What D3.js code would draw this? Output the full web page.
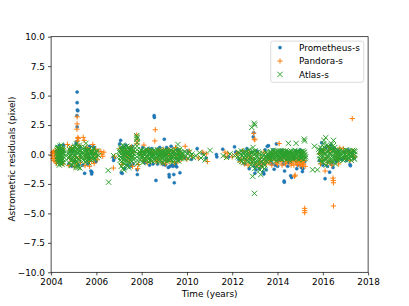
<!DOCTYPE html>
<html><head><meta charset="utf-8">
<script src="https://cdn.jsdelivr.net/npm/d3@7"></script>
<style>body{margin:0;background:#fff}svg{display:block}text{font-family:"DejaVu Sans",sans-serif}</style>
</head><body>
<svg id="c" width="409" height="306"></svg>
<script>
const seriesNames = ["Prometheus-s", "Pandora-s", "Atlas-s"];
const xTicks = [2004, 2006, 2008, 2010, 2012, 2014, 2016, 2018];
const yTicks = [-10, -7.5, -5, -2.5, 0, 2.5, 5, 7.5, 10];

const prometheus = [
[2004.27,0.3],[2004.31,-0.5],[2004.36,0.75],[2004.40,-0.2],[2004.44,0.5],[2004.48,-0.7],[2004.52,0.2],[2004.55,0.8],
[2004.78,-0.8],[2004.85,0.5],[2004.92,-1.0],[2004.98,0.3],[2005.05,-0.6],[2005.10,0.9],[2005.22,-0.9],[2005.28,0.6],
[2005.15,5.3],[2005.15,4.4],[2005.16,3.78],[2005.18,3.72],[2005.14,3.3],[2005.15,2.35],[2005.13,1.1],
[2005.40,-0.9],[2005.48,-1.6],[2005.55,0.5],[2005.62,-0.8],[2005.70,0.7],[2005.76,-1.4],[2005.79,-1.65],[2005.80,-1.5],[2005.86,0.65],[2005.92,0.55],[2005.98,-0.6],[2005.65,-0.3],
[2006.75,-0.2],[2006.76,-0.5],[2006.78,-0.35],
[2007.03,0.9],[2007.07,1.2],[2007.10,-1.55],[2007.14,-1.6],[2007.18,0.6],[2007.25,-1.2],[2007.30,0.8],[2007.38,-0.9],[2007.45,0.5],[2007.52,-1.0],[2007.58,0.7],[2007.62,-0.8],
[2007.81,-1.7],[2007.80,-1.3],
[2008.05,0.6],[2008.15,-0.7],[2008.25,0.4],[2008.35,-0.9],[2008.45,0.5],[2008.55,3.3],[2008.56,3.15],[2008.63,-2.2],[2008.70,-0.8],[2008.80,0.6],[2008.90,-0.7],[2009.00,1.3],[2009.05,-0.9],[2009.12,0.5],[2009.18,-1.1],[2009.21,-1.7],[2009.22,-1.9],[2009.30,0.7],[2009.38,-1.0],[2009.42,-1.7],[2009.44,-2.4],[2009.50,-0.8],[2009.58,0.4],[2009.69,-1.55],[2009.62,-0.5],
[2008.10,-0.6],[2008.30,0.5],[2008.50,-0.8],[2008.75,0.5],[2008.95,-0.85],[2009.10,0.6],[2009.25,-1.0],[2009.35,-0.9],[2009.55,-1.05],[2009.48,-0.95],
[2009.90,-0.3],[2010.05,0.3],[2010.20,-0.4],[2010.45,0.5],[2010.70,0.1],[2010.85,-0.3],[2011.30,0.0],[2011.32,-0.2],[2011.58,0.45],[2011.85,-0.2],[2012.10,0.65],[2012.15,0.2],
[2012.30,-0.4],[2012.45,0.3],[2012.55,-0.8],[2012.65,0.5],[2012.75,-1.2],[2012.85,0.2],[2012.93,1.5],[2012.95,1.85],[2012.97,-1.0],[2013.00,-1.6],[2013.05,-1.3],[2013.10,0.3],[2013.20,-1.2],[2013.30,-0.9],[2013.37,-1.5],[2013.40,-1.65],[2013.45,0.4],[2013.50,-1.3],[2013.55,0.7],
[2013.70,-0.6],[2013.80,0.4],[2013.90,-0.9],[2013.95,0.9],[2014.05,-0.5],[2014.15,0.3],[2014.25,-0.8],[2014.29,-2.25],[2014.30,-2.35],[2014.31,-1.4],[2014.40,0.2],[2014.50,-0.7],[2014.58,-1.8],[2014.62,-1.95],[2014.70,-0.4],[2014.80,0.3],[2014.90,-0.9],[2015.00,0.4],[2015.10,-1.45],[2015.12,-1.2],[2015.20,-0.6],
[2013.75,-0.8],[2014.00,-1.0],[2014.20,0.35],[2014.45,-1.0],[2014.85,-1.2],[2015.05,-1.1],[2013.60,0.75],[2013.85,-1.25],
[2015.85,-0.5],[2015.90,0.4],[2015.95,1.0],[2016.00,-0.9],[2016.10,-2.05],[2016.15,0.6],[2016.20,-1.0],[2016.30,-1.5],[2016.35,0.8],[2016.40,-0.8],[2016.45,-1.1],[2016.50,0.5],[2016.60,-0.6],[2016.70,0.3],
[2016.85,-0.4],[2016.95,0.2],[2017.05,-0.5],[2017.12,0.4],[2017.20,-0.85],[2017.22,-0.95],[2017.30,0.1],[2017.38,-0.3]
];

const pandora = [
[2004.04,-0.1],[2004.06,0.15],[2004.08,-0.35],[2004.10,0.25],[2004.12,-0.5],[2004.14,0.05],[2004.16,-0.2],[2004.18,0.35],[2004.20,-0.6],[2004.22,0.1],[2004.24,-0.75],[2004.26,-0.3],
[2004.33,0.45],[2004.40,-0.65],[2004.47,0.3],[2004.53,-0.8],[2004.30,-0.1],[2004.38,0.1],[2004.44,-0.4],[2004.50,0.5],
[2004.72,0.85],[2004.79,-0.95],[2004.86,0.35],[2004.93,-0.55],[2005.00,0.55],[2005.04,-1.05],[2005.24,0.75],[2005.30,-0.65],[2005.08,-0.2],
[2004.82,-0.3],[2004.90,0.6],[2005.12,-0.8],[2005.26,-0.3],
[2005.15,3.2],[2005.15,2.6],[2005.14,2.15],[2005.18,1.45],[2005.20,1.35],[2005.16,1.15],
[2005.42,1.45],[2005.46,1.2],[2005.50,-0.95],[2005.58,0.6],[2005.66,-0.55],[2005.74,0.3],[2005.84,0.85],[2005.90,-0.75],[2005.96,0.45],[2006.04,-0.45],[2005.54,-0.2],[2005.70,-1.0],[2006.08,0.3],
[2005.62,0.1],[2005.78,-0.6],[2005.88,0.2],[2005.98,-0.2],
[2006.20,0.25],[2006.24,0.05],[2006.28,-0.15],[2006.33,0.2],
[2006.75,-1.15],[2006.80,-0.15],
[2007.05,0.5],[2007.12,-0.85],[2007.22,0.05],[2007.30,0.35],[2007.38,-0.25],[2007.46,-0.55],[2007.54,0.65],[2007.60,-1.0],[2007.65,0.2],
[2007.78,1.65],[2007.80,1.25],[2007.79,0.95],[2007.82,-1.2],[2007.85,-0.85],
[2007.95,0.2],[2008.05,-0.5],[2008.10,0.8],[2008.20,-0.3],[2008.30,0.4],[2008.40,-0.6],[2008.50,0.2],[2008.58,1.15],[2008.60,2.1],[2008.70,-0.4],[2008.80,0.3],[2008.90,-0.7],[2009.00,0.1],[2009.10,-0.5],[2009.20,0.4],[2009.30,-0.3],[2009.40,0.2],[2009.50,0.6],[2009.60,-0.6],[2009.70,0.1],
[2008.00,0.0],[2008.15,0.3],[2008.25,-0.7],[2008.45,0.1],[2008.65,-0.6],[2008.75,0.35],[2008.85,-0.2],[2008.95,0.45],[2009.05,-0.8],[2009.15,0.0],[2009.25,-0.6],[2009.35,0.35],[2009.45,-0.7],[2009.55,-0.1],[2009.65,0.3],[2009.75,-0.4],
[2009.85,-0.2],[2009.92,0.7],[2010.00,-0.4],[2010.10,0.3],[2010.20,-0.1],
[2010.50,-0.3],[2010.70,0.2],[2010.85,0.05],[2010.90,-0.6],[2011.68,0.2],[2011.72,-0.2],[2011.80,0.1],[2012.00,-0.2],[2012.20,0.05],
[2012.25,0.1],[2012.35,-0.6],[2012.45,0.3],[2012.55,-0.8],[2012.65,-0.3],[2012.75,0.2],[2012.85,-0.7],[2012.95,1.8],[2012.97,1.3],[2013.00,1.25],[2012.92,-0.4],[2013.05,-0.9],[2013.12,0.1],[2013.20,-0.6],[2013.30,-1.0],[2013.40,0.2],[2013.50,-0.8],[2013.55,-0.3],
[2012.40,-0.4],[2012.60,-0.5],[2012.70,-0.9],[2012.80,-0.2],[2013.15,-0.8],[2013.25,-0.3],[2013.35,-0.7],[2013.45,-0.5],
[2013.65,-0.5],[2013.75,-0.9],[2013.85,0.1],[2013.95,-0.7],[2014.07,0.93],[2014.10,-0.4],[2014.20,-0.9],[2014.30,0.1],[2014.40,-0.6],[2014.50,-0.2],[2014.60,-0.9],[2014.75,-1.85],[2014.78,-1.75],[2014.70,-0.3],[2014.85,-0.7],[2014.95,-0.5],[2015.00,-0.9],[2015.05,-0.6],[2015.15,-0.8],[2015.20,-4.57],[2015.20,-4.77],[2015.20,-4.94],[2015.22,-1.0],
[2014.55,-0.6],[2014.62,-0.75],[2014.68,-0.5],[2014.72,-0.9],[2014.80,-0.6],[2014.88,-0.85],[2014.92,-0.4],[2014.98,-0.7],[2015.02,-0.55],[2015.08,-0.85],[2015.12,-0.6],[2015.18,-0.5],[2015.10,-1.0],[2013.62,-0.7],[2013.70,-0.3],[2013.90,-0.5],[2014.00,-0.8],[2014.15,-0.6],[2014.25,-0.3],[2014.35,-0.8],[2014.45,-0.5],
[2015.85,0.1],[2015.95,-0.5],[2016.05,0.4],[2016.10,-1.4],[2016.15,-0.3],[2016.25,0.6],[2016.35,-0.6],[2016.45,-2.0],[2016.46,-2.2],[2016.47,-2.4],[2016.47,-4.37],[2016.55,0.2],[2016.65,-0.4],[2016.75,0.55],
[2015.90,-0.8],[2016.00,0.2],[2016.20,-0.7],[2016.30,0.3],[2016.40,-0.9],[2016.60,-0.2],[2016.70,-0.8],
[2016.90,0.5],[2017.00,-0.3],[2017.10,0.2],[2017.20,-0.5],[2017.30,3.05],[2017.32,0.3],[2017.40,-0.2]
];

const atlas = [
[2004.26,0.1],[2004.27,-0.4],[2004.28,0.5],[2004.29,-0.2],[2004.30,0.3],[2004.31,-0.7],[2004.32,0.0],[2004.33,0.6],[2004.34,-0.3],[2004.35,0.2],[2004.36,-0.9],[2004.37,0.4],[2004.38,-0.1],[2004.39,0.7],[2004.40,-0.5],[2004.41,0.1],[2004.42,-0.2],[2004.43,0.3],[2004.44,-0.6],[2004.45,0.8],[2004.46,0.0],[2004.47,-0.3],[2004.48,0.4],[2004.49,-0.8],[2004.50,0.2],[2004.51,-0.1],[2004.52,0.5],[2004.53,-0.4],[2004.54,0.1],[2004.55,-0.2],
[2004.265,0.35],[2004.285,-0.15],[2004.305,0.55],[2004.325,-0.55],[2004.345,0.15],[2004.365,-0.35],[2004.385,0.45],[2004.405,-0.75],[2004.425,0.25],[2004.445,-0.05],[2004.465,0.6],[2004.485,-0.45],[2004.505,0.05],[2004.525,-0.65],[2004.545,0.35],
[2004.76,-0.3],[2004.78,0.2],[2004.80,-0.7],[2004.82,0.4],[2004.84,-0.1],[2004.86,0.6],[2004.88,-0.5],[2004.90,0.1],[2004.92,-0.9],[2004.94,0.3],[2004.96,-0.2],[2004.98,0.5],[2005.00,-0.6],[2005.02,0.0],[2005.04,0.7],[2005.06,-0.4],[2005.08,0.2],[2005.10,-1.1],[2005.12,0.9],[2005.14,-0.3],[2005.16,0.4],[2005.18,-0.8],[2005.20,0.1],[2005.22,0.6],[2005.24,-0.5],[2005.26,0.3],[2005.28,-1.15],[2005.30,0.0],
[2004.77,0.05],[2004.81,-0.25],[2004.85,0.25],[2004.89,-0.85],[2004.93,0.45],[2004.97,-0.45],[2005.01,0.25],[2005.05,-0.15],[2005.09,0.55],[2005.13,-0.6],[2005.17,0.15],[2005.21,-0.35],[2005.25,0.8],[2005.29,-0.2],[2005.11,-0.95],[2005.19,-1.1],[2005.23,0.35],
[2005.36,0.2],[2005.39,-0.4],[2005.42,0.5],[2005.45,-0.1],[2005.48,0.3],[2005.51,-0.6],[2005.54,0.95],[2005.57,0.0],[2005.60,-0.3],[2005.63,0.4],[2005.66,-0.7],[2005.69,0.1],[2005.72,-0.2],[2005.75,0.3],[2005.78,-0.5],[2005.81,0.2],[2005.84,-0.1],[2005.88,0.5],[2005.92,-0.3],[2005.96,0.1],[2006.00,-0.2],[2006.05,0.3],[2006.10,-0.1],
[2005.37,-0.2],[2005.41,0.1],[2005.44,-0.5],[2005.47,0.6],[2005.50,0.05],[2005.53,-0.25],[2005.56,0.35],[2005.59,-0.55],[2005.62,0.15],[2005.65,-0.05],[2005.68,0.45],[2005.71,-0.4],[2005.74,0.0],[2005.77,0.2],[2005.80,-0.3],[2005.83,0.35],[2005.87,-0.15],[2005.90,0.1],[2005.94,-0.4],[2005.98,0.25],
[2006.52,-1.35],[2006.54,-2.35],[2006.76,-0.1],
[2007.02,0.3],[2007.05,-0.5],[2007.08,0.6],[2007.10,-1.0],[2007.12,0.1],[2007.14,-0.3],[2007.16,0.8],[2007.18,-0.7],[2007.20,0.4],[2007.22,-1.3],[2007.24,0.0],[2007.26,0.5],[2007.28,-0.4],[2007.30,0.2],[2007.32,-0.9],[2007.34,0.7],[2007.36,-0.2],[2007.38,0.3],[2007.40,-0.6],[2007.42,0.1],[2007.44,-1.1],[2007.46,0.5],[2007.48,-0.1],[2007.50,0.3],[2007.52,-0.5],[2007.54,0.2],[2007.56,-0.3],[2007.58,0.6],[2007.60,-0.2],[2007.62,0.1],[2007.64,-0.4],
[2007.01,-0.1],[2007.04,0.15],[2007.07,-0.25],[2007.09,0.45],[2007.11,-0.6],[2007.13,0.35],[2007.15,-0.05],[2007.17,-1.2],[2007.19,0.2],[2007.21,-0.45],[2007.23,0.65],[2007.25,-0.8],[2007.27,0.15],[2007.29,-0.15],[2007.31,0.45],[2007.33,-0.55],[2007.35,0.05],[2007.37,-1.0],[2007.39,0.55],[2007.41,-0.3],[2007.43,0.25],[2007.45,-0.05],[2007.47,-0.75],[2007.49,0.4],[2007.51,0.05],[2007.53,-0.25],[2007.55,0.45],[2007.57,-0.6],[2007.59,0.15],[2007.61,-0.1],[2007.63,0.35],
[2007.78,1.6],[2007.79,1.3],[2007.80,1.0],[2007.79,0.7],[2007.80,0.4],[2007.81,0.1],[2007.79,-0.2],[2007.80,-0.5],[2007.81,-0.8],[2007.80,1.45],
[2007.92,0.2],[2007.95,-0.4],[2007.98,0.4],[2008.01,-0.1],[2008.04,-0.7],[2008.07,0.1],[2008.10,0.3],[2008.13,-0.3],[2008.16,0.0],[2008.19,-0.5],[2008.22,0.45],[2008.25,-0.2],[2008.28,0.2],[2008.31,-0.6],[2008.34,0.1],[2008.37,-0.3],[2008.40,0.35],[2008.43,-0.1],[2008.46,-0.55],[2008.49,0.25],[2008.52,0.0],[2008.55,-0.4],[2008.58,0.3],[2008.61,-0.2],[2008.64,0.1],[2008.67,-0.6],[2008.70,0.4],[2008.73,-0.1],[2008.76,0.2],[2008.79,-0.45],[2008.82,0.0],[2008.85,0.3],[2008.88,-0.3],[2008.91,0.15],[2008.94,-0.7],[2008.97,0.05],[2009.00,-0.2],[2009.03,0.4],[2009.06,-0.4],[2009.09,0.1],[2009.12,-0.6],[2009.15,0.3],[2009.18,-0.15],[2009.21,0.2],[2009.24,-0.5],[2009.27,0.0],[2009.30,0.35],[2009.33,-0.3],[2009.36,0.1],[2009.39,-0.65],[2009.42,0.25],[2009.45,-0.1],[2009.48,0.4],[2009.51,-0.4],[2009.54,0.05],[2009.57,-0.25],[2009.60,0.85],[2009.63,-0.55],[2009.66,0.3],[2009.69,-0.1],[2009.72,0.2],[2009.75,-0.3],[2009.78,0.1],
[2007.935,-0.05],[2007.965,0.15],[2007.995,-0.3],[2008.025,0.25],[2008.055,-0.2],[2008.085,-0.45],[2008.115,0.05],[2008.145,0.2],[2008.175,-0.35],[2008.205,0.1],[2008.235,-0.1],[2008.265,0.3],[2008.295,-0.4],[2008.325,0.0],[2008.355,0.2],[2008.385,-0.5],[2008.415,0.15],[2008.445,-0.25],[2008.475,0.05],[2008.505,-0.15],[2008.535,0.35],[2008.565,-0.05],[2008.595,-0.5],[2008.625,0.2],[2008.655,-0.3],[2008.685,0.0],[2008.715,-0.2],[2008.745,0.3],[2008.775,-0.05],[2008.805,-0.6],[2008.835,0.15],[2008.865,-0.15],[2008.895,0.05],[2008.925,-0.35],[2008.955,0.3],[2008.985,-0.45],[2009.015,0.1],[2009.045,-0.05],[2009.075,0.25],[2009.105,-0.3],[2009.135,0.0],[2009.165,-0.45],[2009.195,0.15],[2009.225,-0.25],[2009.255,0.3],[2009.285,-0.35],[2009.315,0.05],[2009.345,-0.15],[2009.375,0.25],[2009.405,-0.4],[2009.435,0.0],[2009.465,-0.3],[2009.495,0.15],[2009.525,-0.2],[2009.555,0.3],[2009.585,-0.5],[2009.615,0.1],[2009.645,-0.2],[2009.675,0.45],[2009.705,-0.35],[2009.735,0.0],[2009.765,-0.15],
[2009.82,0.0],[2009.86,-0.3],[2009.90,0.25],[2009.95,-0.15],[2010.00,0.1],[2010.05,-0.35],[2010.10,0.2],[2010.15,-0.1],[2010.22,0.05],[2010.28,-0.25],
[2010.40,-0.1],[2010.55,0.15],[2010.62,-0.3],[2010.75,-0.05],[2010.80,-0.45],[2011.02,0.35],[2011.60,-0.1],[2011.75,-0.25],[2011.90,0.05],[2012.10,-0.1],
[2012.25,-0.2],[2012.30,0.1],[2012.35,-0.5],[2012.40,0.3],[2012.45,-0.1],[2012.50,-0.7],[2012.55,0.2],[2012.60,-0.35],[2012.65,0.05],[2012.70,-0.6],[2012.74,0.4],[2012.78,-0.2],[2012.82,-0.9],[2012.86,0.1],[2012.86,2.3],[2012.90,-1.85],[2012.92,0.6],[2012.93,-0.4],[2012.97,2.65],[2012.99,2.5],[2012.98,-3.3],[2012.99,-1.2],[2013.00,0.3],[2013.03,-0.7],[2013.06,-0.1],[2013.10,-1.0],[2013.14,0.2],[2013.18,-0.5],[2013.22,-1.3],[2013.26,-1.7],[2013.30,-0.3],[2013.34,0.1],[2013.38,-0.8],[2013.42,-1.2],[2013.46,-0.2],[2013.50,0.2],[2013.54,-0.6],[2013.58,-0.1],
[2012.27,0.2],[2012.32,-0.3],[2012.37,0.0],[2012.42,-0.6],[2012.47,0.15],[2012.52,-0.3],[2012.57,-0.05],[2012.62,0.25],[2012.67,-0.5],[2012.72,-0.1],[2012.76,0.1],[2012.80,-0.5],[2012.84,-0.25],[2012.88,-0.6],[2012.91,0.25],[2012.94,-0.9],[2012.96,0.0],[2013.01,-0.4],[2013.04,0.1],[2013.08,-0.5],[2013.12,-0.2],[2013.16,-0.8],[2013.20,0.1],[2013.24,-0.4],[2013.28,-1.0],[2013.32,-0.6],[2013.36,-0.1],[2013.40,-0.4],[2013.44,-0.9],[2013.48,-0.5],[2013.52,-0.2],[2013.56,0.05],[2013.60,-0.35],
[2013.62,0.0],[2013.65,-0.3],[2013.68,0.25],[2013.71,-0.5],[2013.74,0.1],[2013.77,-0.15],[2013.80,0.35],[2013.83,-0.4],[2013.86,0.0],[2013.89,-0.25],[2013.92,0.2],[2013.95,-0.55],[2013.98,0.1],[2014.01,-0.1],[2014.04,0.3],[2014.07,-0.35],[2014.10,0.05],[2014.13,-0.2],[2014.16,0.25],[2014.19,-0.45],[2014.22,0.0],[2014.25,0.15],[2014.28,-0.3],[2014.31,0.1],[2014.34,-0.1],[2014.37,0.3],[2014.40,-0.4],[2014.43,0.05],[2014.46,-0.2],[2014.48,0.95],[2014.50,0.2],[2014.53,-0.5],[2014.56,0.0],[2014.59,0.3],[2014.62,-0.25],[2014.65,0.1],[2014.68,-0.4],[2014.71,0.2],[2014.74,-0.1],[2014.77,0.35],[2014.80,-0.3],[2014.82,0.95],[2014.85,0.05],[2014.88,-0.2],[2014.91,0.25],[2014.94,-0.45],[2014.97,0.0],[2015.00,0.2],[2015.03,-0.3],[2015.06,0.1],[2015.09,-0.15],[2015.12,0.3],[2015.15,-0.4],[2015.18,1.3],[2015.19,1.15],[2015.21,0.0],[2015.24,-0.2],
[2013.635,-0.15],[2013.665,0.1],[2013.695,-0.35],[2013.725,0.2],[2013.755,-0.25],[2013.785,0.05],[2013.815,-0.1],[2013.845,0.25],[2013.875,-0.35],[2013.905,0.1],[2013.935,-0.1],[2013.965,0.3],[2013.995,-0.3],[2014.025,0.0],[2014.055,0.2],[2014.085,-0.15],[2014.115,0.3],[2014.145,-0.35],[2014.175,0.05],[2014.205,-0.1],[2014.235,0.3],[2014.265,-0.2],[2014.295,0.0],[2014.325,0.25],[2014.355,-0.35],[2014.385,0.1],[2014.415,-0.1],[2014.445,0.25],[2014.475,-0.35],[2014.505,0.0],[2014.535,0.15],[2014.565,-0.3],[2014.595,0.05],[2014.625,0.25],[2014.655,-0.2],[2014.685,0.0],[2014.715,-0.3],[2014.745,0.2],[2014.775,-0.15],[2014.805,0.1],[2014.835,-0.3],[2014.865,0.25],[2014.895,0.0],[2014.925,-0.15],[2014.955,0.2],[2014.985,-0.25],[2015.015,0.05],[2015.045,0.25],[2015.075,-0.3],[2015.105,0.0],[2015.135,0.15],[2015.165,-0.15],[2015.195,0.2],[2015.225,-0.35],
[2015.55,-1.3],[2015.76,-1.3],[2015.63,0.7],[2015.82,0.45],
[2015.85,0.2],[2015.88,-0.4],[2015.91,0.6],[2015.94,-0.1],[2015.97,0.3],[2016.00,-0.7],[2016.03,0.9],[2016.05,1.2],[2016.06,0.0],[2016.09,-0.3],[2016.12,0.5],[2016.13,1.43],[2016.15,-0.9],[2016.18,0.2],[2016.21,-0.2],[2016.24,0.7],[2016.27,-0.5],[2016.30,0.1],[2016.33,0.4],[2016.36,-0.6],[2016.39,0.9],[2016.42,-0.1],[2016.45,0.3],[2016.47,1.2],[2016.50,-0.4],[2016.53,0.6],[2016.56,-0.8],[2016.59,0.1],[2016.62,-0.3],[2016.65,0.4],[2016.68,-0.5],[2016.71,0.2],[2016.74,-0.2],[2016.77,0.0],
[2015.86,-0.1],[2015.89,0.3],[2015.92,-0.6],[2015.95,0.45],[2015.98,-0.3],[2016.01,0.2],[2016.04,-0.5],[2016.07,0.6],[2016.10,0.1],[2016.14,-0.4],[2016.17,0.8],[2016.20,0.35],[2016.23,-0.7],[2016.26,0.25],[2016.29,-0.2],[2016.32,0.6],[2016.35,0.05],[2016.38,-0.35],[2016.41,0.5],[2016.44,-0.6],[2016.46,0.75],[2016.49,0.0],[2016.52,-0.2],[2016.55,0.35],[2016.58,-0.45],[2016.61,0.2],[2016.64,-0.1],[2016.67,0.1],[2016.70,-0.35],[2016.73,0.3],[2016.76,-0.4],[2016.79,0.15],
[2016.82,-0.3],[2016.86,0.3],[2016.90,-0.5],[2016.94,0.1],[2016.98,-0.2],[2017.02,0.4],[2017.06,-0.4],[2017.10,0.0],[2017.14,0.3],[2017.18,-0.3],[2017.22,0.1],[2017.26,-0.5],[2017.30,0.2],[2017.34,-0.1],[2017.38,0.3],[2017.42,0.25],[2017.40,-0.4],
[2016.84,0.05],[2016.88,-0.2],[2016.92,0.25],[2016.96,-0.4],[2017.00,0.0],[2017.04,-0.15],[2017.08,0.2],[2017.12,-0.3],[2017.16,0.05],[2017.20,0.25],[2017.24,-0.2],[2017.28,-0.05],[2017.32,0.35],[2017.36,-0.3],[2017.41,0.0]
];

const colors = ["#1f77b4", "#ff7f0e", "#2ca02c"];

const svg = d3.select("#c");
svg.append("rect").attr("width", 409).attr("height", 306).attr("fill", "#fff");
const L = 51.1, R = 368.1, T = 36.7, B = 272.3;
const x = d3.scaleLinear().domain([2004, 2018]).range([L, R]);
const y = d3.scaleLinear().domain([-10, 10]).range([B, T]);
const fs = 8.9, ms = 2.65, lw = 1.0;

function drawMarker(g, kind, px, py, color) {
  if (kind === 0) {
    g.append("circle").attr("cx", px).attr("cy", py).attr("r", 1.55).attr("fill", color).attr("stroke", color).attr("stroke-width", 0.5);
  } else if (kind === 1) {
    g.append("path").attr("d", `M${px - ms},${py}H${px + ms}M${px},${py - ms}V${py + ms}`).attr("stroke", color).attr("stroke-width", lw).attr("fill", "none");
  } else {
    g.append("path").attr("d", `M${px - ms},${py - ms}L${px + ms},${py + ms}M${px - ms},${py + ms}L${px + ms},${py - ms}`).attr("stroke", color).attr("stroke-width", lw).attr("fill", "none");
  }
}

const plot = svg.append("g");
[prometheus, pandora, atlas].forEach((data, k) => {
  const g = plot.append("g");
  data.forEach(d => drawMarker(g, k, x(d[0]), y(d[1]), colors[k]));
});

const xa = svg.append("g").attr("transform", `translate(0,${B})`)
  .call(d3.axisBottom(x).tickValues(xTicks).tickFormat(d3.format("d")).tickSize(3.1).tickPadding(3.1));
const ya = svg.append("g").attr("transform", `translate(${L},0)`)
  .call(d3.axisLeft(y).tickValues(yTicks).tickFormat(d3.format(".1f")).tickSize(3.1).tickPadding(3.1));
[xa, ya].forEach(a => {
  a.select(".domain").remove();
  a.selectAll("line").attr("stroke", "#000").attr("stroke-width", 0.7);
  a.selectAll("text").attr("fill", "#000").style("font-size", fs + "px").style("font-family", "DejaVu Sans");
});
svg.append("rect").attr("x", L).attr("y", T).attr("width", R - L).attr("height", B - T)
  .attr("fill", "none").attr("stroke", "#000").attr("stroke-width", 0.7);

svg.append("text").attr("x", (L + R) / 2).attr("y", 297).attr("text-anchor", "middle")
  .style("font-size", fs + "px").text("Time (years)");
svg.append("text").attr("transform", `translate(14.8,159) rotate(-90)`).attr("text-anchor", "middle")
  .style("font-size", fs + "px").text("Astrometric residuals (pixel)");

const leg = svg.append("g");
leg.append("rect").attr("x", 270.7).attr("y", 41.1).attr("width", 93).attr("height", 41.2).attr("rx", 2)
  .attr("fill", "#fff").attr("fill-opacity", 0.8).attr("stroke", "#cccccc").attr("stroke-width", 0.7);
seriesNames.forEach((n, k) => {
  const ly = 47.6 + k * 13.4;
  drawMarker(leg, k, 280, ly, colors[k]);
  leg.append("text").attr("x", 299).attr("y", ly).attr("dy", "0.35em").style("font-size", fs + "px").text(n);
});
</script>
</body></html>
